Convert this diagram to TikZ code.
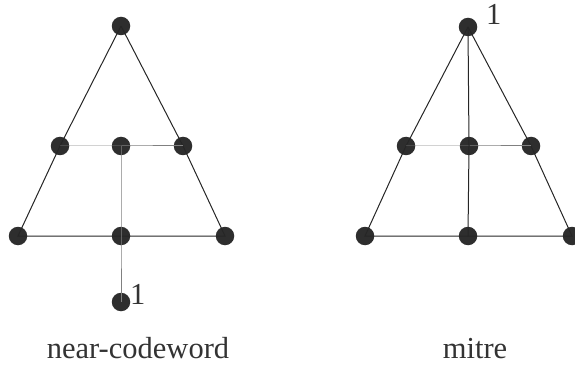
\documentclass[tikz,border=0pt]{standalone}
\usepackage{fontspec}
\setmainfont{Liberation Serif}
\begin{document}
\begin{tikzpicture}[x=1pt,y=-1pt,
  dot/.style={circle,fill=dotc,inner sep=0pt,minimum size=18.5pt},
  dark/.style={line width=1pt,draw=black!85},
  light/.style={line width=1pt,draw=black!50},
  lbl/.style={font=\fontsize{30.5}{36}\selectfont,text=black!80,inner sep=0pt}]
\definecolor{dotc}{HTML}{2E2E2E}
\useasboundingbox (0,0) rectangle (575,366);
% left: near-codeword
\node[dot] (a1) at (121,26) {};
\node[dot] (a2) at (60,146) {};
\node[dot] (a3) at (121,146) {};
\node[dot] (a4) at (183,146) {};
\node[dot] (a5) at (18,236) {};
\node[dot] (a6) at (121,236) {};
\node[dot] (a7) at (225,236) {};
\node[dot] (a8) at (121,302) {};
\draw[dark] (a1.center) -- (a2.center) -- (a5.center) -- (a6.center) -- (a7.center) -- (a4.center) -- (a1.center);
\draw[light] (a2.center) -- (a3.center) -- (a4.center);
\draw[light] (a3.center) -- (a6.center) -- (a8.center);
\node[lbl,anchor=base west] (l1) at (130,304) {1};
\node[lbl,anchor=base] (n1) at (138,358) {near-codeword};
% right: mitre
\node[dot] (b1) at (468,27) {};
\node[dot] (b2) at (406,146) {};
\node[dot] (b3) at (469,146) {};
\node[dot] (b4) at (531,146) {};
\node[dot] (b5) at (365,236) {};
\node[dot] (b6) at (468,236) {};
\node[dot] (b7) at (572,236) {};
\draw[dark] (b1.center) -- (b2.center) -- (b5.center) -- (b6.center) -- (b7.center) -- (b4.center) -- (b1.center);
\draw[light] (b2.center) -- (b3.center) -- (b4.center);
\draw[dark] (b1.center) -- (b3.center) -- (b6.center);
\node[lbl,anchor=base west] (l2) at (486,25) {1};
\node[lbl,anchor=base] (n2) at (475,358) {mitre};
\end{tikzpicture}
\end{document}
